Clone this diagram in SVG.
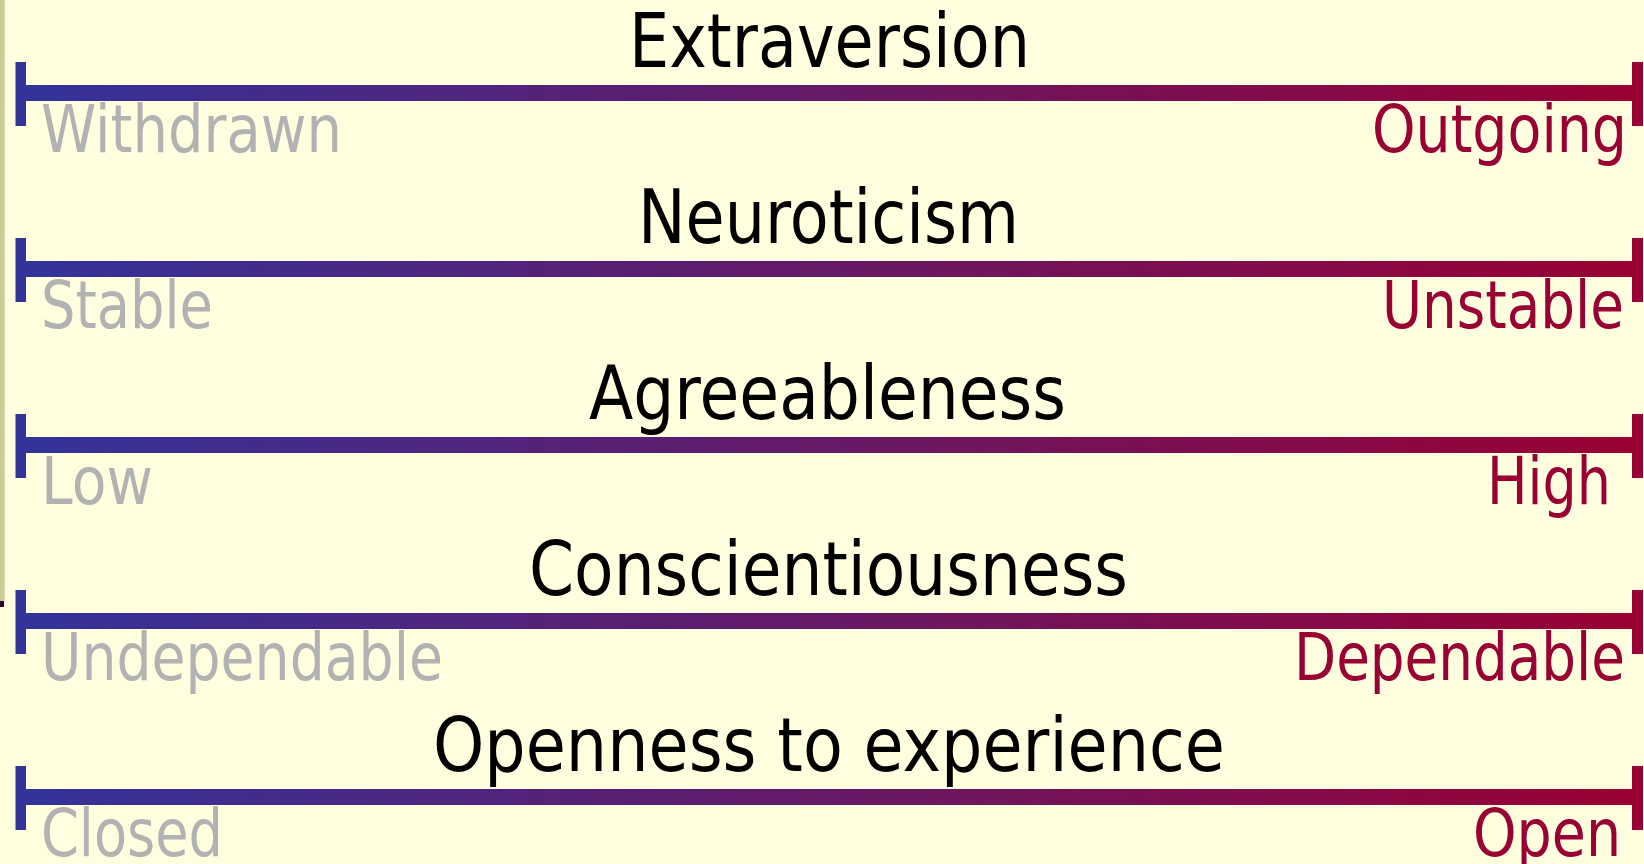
<svg xmlns="http://www.w3.org/2000/svg" width="1644" height="864" viewBox="0 0 1644 864">
<defs>
<linearGradient id="barGrad" gradientUnits="userSpaceOnUse" x1="26" y1="0" x2="1632" y2="0">
<stop offset="0" stop-color="#333399"/>
<stop offset="1" stop-color="#990033"/>
</linearGradient>
<style>
.title{font-family:"DejaVu Sans","Liberation Sans",sans-serif;font-size:74px;fill:#000000}
.lo{font-family:"DejaVu Sans","Liberation Sans",sans-serif;font-size:66px;fill:#B2B2B2}
.hi{font-family:"DejaVu Sans","Liberation Sans",sans-serif;font-size:66px;fill:#990033}
.bar{fill:url(#barGrad)}
.tl{fill:#333399}
.tr{fill:#990033}
</style>
</defs>
<rect x="0" y="0" width="1644" height="864" fill="#FFFFE0"/>
<rect x="0" y="0" width="4.7" height="601" fill="#CCCC99"/>
<rect x="0" y="601" width="4" height="6" fill="#330033"/>

<g id="extraversion">
<text class="title" x="629" y="67" textLength="401" lengthAdjust="spacingAndGlyphs">Extraversion</text>
<rect class="bar" x="26" y="85" width="1606" height="16"/>
<rect class="tl" x="15.5" y="62" width="10.5" height="64"/>
<rect class="tr" x="1632" y="62" width="11" height="64"/>
<text class="lo" x="41" y="151.5" textLength="301" lengthAdjust="spacingAndGlyphs">Withdrawn</text>
<text class="hi" x="1372" y="151.5" textLength="255" lengthAdjust="spacingAndGlyphs">Outgoing</text>
</g>

<g id="neuroticism">
<text class="title" x="638" y="243" textLength="381" lengthAdjust="spacingAndGlyphs">Neuroticism</text>
<rect class="bar" x="26" y="261" width="1606" height="16"/>
<rect class="tl" x="15.5" y="238" width="10.5" height="64"/>
<rect class="tr" x="1632" y="238" width="11" height="64"/>
<text class="lo" x="41" y="327.5" textLength="172" lengthAdjust="spacingAndGlyphs">Stable</text>
<text class="hi" x="1382" y="327.5" textLength="242" lengthAdjust="spacingAndGlyphs">Unstable</text>
</g>

<g id="agreeableness">
<text class="title" x="589" y="419" textLength="477" lengthAdjust="spacingAndGlyphs">Agreeableness</text>
<rect class="bar" x="26" y="437" width="1606" height="16"/>
<rect class="tl" x="15.5" y="414" width="10.5" height="64"/>
<rect class="tr" x="1632" y="414" width="11" height="64"/>
<text class="lo" x="41" y="503.5" textLength="112" lengthAdjust="spacingAndGlyphs">Low</text>
<text class="hi" x="1487" y="503.5" textLength="124" lengthAdjust="spacingAndGlyphs">High</text>
</g>

<g id="conscientiousness">
<text class="title" x="529" y="595" textLength="599" lengthAdjust="spacingAndGlyphs">Conscientiousness</text>
<rect class="bar" x="26" y="613" width="1606" height="16"/>
<rect class="tl" x="15.5" y="590" width="10.5" height="64"/>
<rect class="tr" x="1632" y="590" width="11" height="64"/>
<text class="lo" x="41" y="679.5" textLength="402" lengthAdjust="spacingAndGlyphs">Undependable</text>
<text class="hi" x="1294" y="679.5" textLength="331" lengthAdjust="spacingAndGlyphs">Dependable</text>
</g>

<g id="openness">
<text class="title" x="433" y="771" textLength="792" lengthAdjust="spacingAndGlyphs">Openness to experience</text>
<rect class="bar" x="26" y="789" width="1606" height="16"/>
<rect class="tl" x="15.5" y="766" width="10.5" height="64"/>
<rect class="tr" x="1632" y="766" width="11" height="64"/>
<text class="lo" x="41" y="855.5" textLength="182" lengthAdjust="spacingAndGlyphs">Closed</text>
<text class="hi" x="1473" y="855.5" textLength="148" lengthAdjust="spacingAndGlyphs">Open</text>
</g>
</svg>
